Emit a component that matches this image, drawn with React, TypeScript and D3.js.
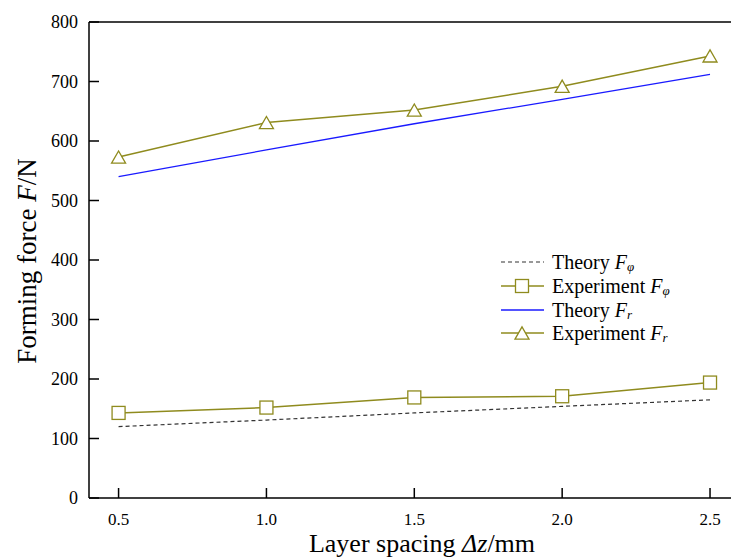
import React from "react";
import * as d3 from "d3";

// Layer spacing values (mm)
const spacing = [0.5, 1.0, 1.5, 2.0, 2.5];
// Tangential force F_phi (N)
const theoryFphi = [120, 131, 143, 154, 165];
const experimentFphi = [143, 152, 169, 171, 194];
// Radial force F_r (N)
const theoryFr = [540, 585, 629, 670, 712];
const experimentFr = [573, 631, 652, 692, 743];

const xTicks = [0.5, 1.0, 1.5, 2.0, 2.5];
const yTicks = [0, 100, 200, 300, 400, 500, 600, 700, 800];

const W = 731;
const H = 557;
const OLIVE = "#8f8b1e";
const FONT = "'Liberation Serif', 'Times New Roman', serif";

export default function App() {
  const x = d3.scaleLinear().domain([0.4, 2.6]).range([89, 739.6]);
  const y = d3.scaleLinear().domain([0, 800]).range([498, 22]);

  const line = d3
    .line<number>()
    .x((_, i) => x(spacing[i]))
    .y((d) => y(d));

  const triPath = (cx: number, cy: number, s = 14) => {
    const h = s * 0.87;
    return `M${cx - s / 2},${cy + h / 2}L${cx},${cy - h / 2}L${cx + s / 2},${cy + h / 2}Z`;
  };

  const legendRows = [
    { label: "Theory ", sub: "φ", kind: "dash" },
    { label: "Experiment ", sub: "φ", kind: "square" },
    { label: "Theory ", sub: "r", kind: "blue" },
    { label: "Experiment ", sub: "r", kind: "tri" },
  ];
  const legendY = [262, 286, 310, 333];

  return (
    <svg
      width={W}
      height={H}
      style={{ position: "absolute", left: 0, top: 0, background: "#fff" }}
      fontFamily={FONT}
    >
      <rect width={W} height={H} fill="#fff" />

      {/* frame: left, bottom and top lines */}
      <line x1={89} x2={W} y1={22} y2={22} stroke="#000" strokeWidth={1.5} />
      <line x1={89} x2={W} y1={498} y2={498} stroke="#000" strokeWidth={1.5} />
      <line x1={89} x2={89} y1={22} y2={498} stroke="#000" strokeWidth={1.5} />

      {/* y ticks */}
      {yTicks.map((t) => (
        <g key={"y" + t}>
          <line x1={89} x2={99} y1={y(t)} y2={y(t)} stroke="#000" strokeWidth={1.5} />
          <text x={78} y={y(t)} dy="0.34em" textAnchor="end" fontSize={18}>
            {t}
          </text>
        </g>
      ))}

      {/* x ticks */}
      {xTicks.map((t) => (
        <g key={"x" + t}>
          <line x1={x(t)} x2={x(t)} y1={498} y2={488} stroke="#000" strokeWidth={1.5} />
          <text x={x(t)} y={525} textAnchor="middle" fontSize={17}>
            {t.toFixed(1)}
          </text>
        </g>
      ))}

      {/* axis titles */}
      <text
        transform={`translate(36,261) rotate(-90)`}
        textAnchor="middle"
        fontSize={27}
      >
        Forming force <tspan fontStyle="italic">F</tspan>/N
      </text>
      <text x={422} y={552} textAnchor="middle" fontSize={26}>
        Layer spacing <tspan fontStyle="italic">Δz</tspan>/mm
      </text>

      {/* theory curves */}
      <path
        d={line(theoryFphi) || ""}
        fill="none"
        stroke="#333"
        strokeWidth={1.2}
        strokeDasharray="4,3"
      />
      <path d={line(theoryFr) || ""} fill="none" stroke="#1a1aff" strokeWidth={1.3} />

      {/* experiment curves */}
      <path d={line(experimentFphi) || ""} fill="none" stroke={OLIVE} strokeWidth={1.5} />
      <path d={line(experimentFr) || ""} fill="none" stroke={OLIVE} strokeWidth={1.5} />

      {experimentFphi.map((v, i) => (
        <rect
          key={"sq" + i}
          x={x(spacing[i]) - 6.5}
          y={y(v) - 6.5}
          width={13}
          height={13}
          fill="#fff"
          stroke={OLIVE}
          strokeWidth={1.3}
        />
      ))}
      {experimentFr.map((v, i) => (
        <path
          key={"tr" + i}
          d={triPath(x(spacing[i]), y(v))}
          fill="#fff"
          stroke={OLIVE}
          strokeWidth={1.3}
        />
      ))}

      {/* legend */}
      {legendRows.map((r, i) => {
        const ly = legendY[i];
        const cx = 522;
        return (
          <g key={"lg" + i}>
            {r.kind === "dash" && (
              <line x1={501} x2={544} y1={ly} y2={ly} stroke="#333" strokeWidth={1.2} strokeDasharray="4,3" />
            )}
            {r.kind === "blue" && (
              <line x1={501} x2={544} y1={ly} y2={ly} stroke="#1a1aff" strokeWidth={1.3} />
            )}
            {r.kind === "square" && (
              <>
                <line x1={501} x2={544} y1={ly} y2={ly} stroke={OLIVE} strokeWidth={1.5} />
                <rect x={cx - 6.5} y={ly - 6.5} width={13} height={13} fill="#fff" stroke={OLIVE} strokeWidth={1.3} />
              </>
            )}
            {r.kind === "tri" && (
              <>
                <line x1={501} x2={544} y1={ly} y2={ly} stroke={OLIVE} strokeWidth={1.5} />
                <path d={triPath(cx, ly)} fill="#fff" stroke={OLIVE} strokeWidth={1.3} />
              </>
            )}
            <text x={552} y={ly} dy="0.35em" fontSize={20}>
              {r.label}
              <tspan fontStyle="italic">F</tspan>
              <tspan fontStyle="italic" fontSize={13} dy="2">
                {r.sub}
              </tspan>
            </text>
          </g>
        );
      })}
    </svg>
  );
}
